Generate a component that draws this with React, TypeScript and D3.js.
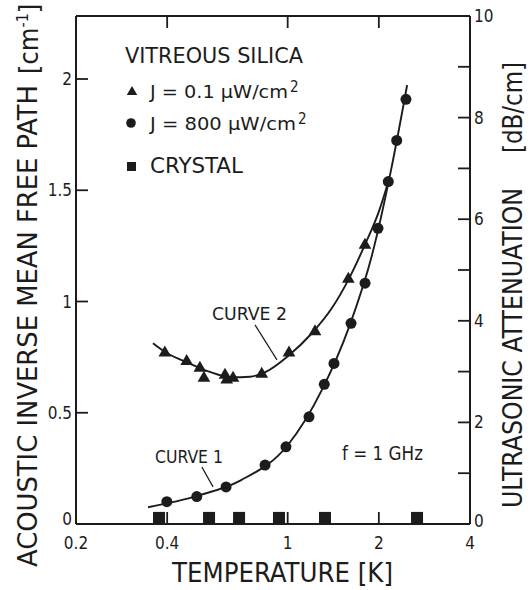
import React from "react";
import * as d3 from "d3";

// ---- data (temperature in K, attenuation in dB/cm) ----
const triT = [0.393, 0.464, 0.513, 0.529, 0.621, 0.629, 0.66, 0.821, 1.01, 1.231, 1.586, 1.8];
const triV = [3.37, 3.2, 3.07, 2.87, 2.93, 2.84, 2.87, 2.95, 3.37, 3.79, 4.82, 5.49];

const circT = [0.399, 0.501, 0.626, 0.842, 0.987, 1.176, 1.321, 1.422, 1.619, 1.801, 1.987, 2.149, 2.291, 2.458];
const circV = [0.44, 0.54, 0.73, 1.16, 1.52, 2.11, 2.75, 3.16, 3.95, 4.74, 5.82, 6.74, 7.55, 8.36];

const crysT = [0.376, 0.55, 0.691, 0.936, 1.328, 2.674];
const crysV = [0.12, 0.12, 0.12, 0.12, 0.12, 0.12];

// fitted curves
const curve1T = [0.346, 0.5, 0.7, 1.0, 1.3, 1.6, 1.9, 2.2, 2.48];
const curve1V = [0.33, 0.55, 0.86, 1.55, 2.65, 3.9, 5.3, 7.0, 8.64];
const curve2T = [0.359, 0.4, 0.47, 0.55, 0.65, 0.75, 0.85, 1.0, 1.2, 1.4, 1.6, 1.8, 2.0, 2.15];
const curve2V = [3.56, 3.36, 3.17, 3.0, 2.89, 2.9, 3.0, 3.3, 3.75, 4.25, 4.85, 5.5, 6.15, 6.74];

const xTicks = [0.2, 0.4, 1, 2, 4];
const xTickLabels = ["0.2", "0.4", "1", "2", "4"];
const xInnerTicks = [0.4, 1, 2];
const leftTicks = [0, 0.5, 1, 1.5, 2];
const leftTickLabels = ["0", "0.5", "1", "1.5", "2"];
const rightTicks = [0, 2, 4, 6, 8, 10];
const rightTickLabels = ["0", "2", "4", "6", "8", "10"];
const rightMinor = [1, 3, 5, 7, 9];

// annotation anchors (T, dB/cm)
const curve2Leader = [[0.78, 3.92], [0.922, 3.23]];
const curve1Leader = [[0.521, 1.12], [0.567, 0.73]];

const FONT = "'DejaVu Sans Condensed', 'Liberation Sans Narrow', 'DejaVu Sans', sans-serif";
const INK = "#1c1c1c";

export default function App() {
  const L = 76, R = 470, T = 16, B = 524;
  const x = d3.scaleLog().domain([0.2, 4]).range([L, R]);
  const yR = d3.scaleLinear().domain([0, 10]).range([B, T]);
  const yL = d3.scaleLinear().domain([0, 2]).range([B, 79]);

  const line = d3
    .line<[number, number]>()
    .x((d) => x(d[0]))
    .y((d) => yR(d[1]))
    .curve(d3.curveMonotoneX);
  const c1 = line(curve1T.map((t, i) => [t, curve1V[i]]));
  const c2 = line(curve2T.map((t, i) => [t, curve2V[i]]));

  const tri = d3.symbol(d3.symbolTriangle, 70)();
  const triLeg = d3.symbol(d3.symbolTriangle, 48)();

  const lw = 1.9;

  return (
    <svg width={530} height={590} style={{ position: "absolute", left: 0, top: 0, background: "#fff" }}>
      <rect x={0} y={0} width={530} height={590} fill="#fff" />
      {/* frame */}
      <g stroke={INK} strokeWidth={2} fill="none">
        <line x1={L} y1={T} x2={L} y2={B} />
        <line x1={L} y1={B} x2={R} y2={B} />
        <line x1={R} y1={T} x2={R} y2={B} />
        <line x1={L} y1={T} x2={R} y2={T} />
      </g>
      {/* ticks */}
      <g stroke={INK} strokeWidth={1.8}>
        {xInnerTicks.map((t) => (
          <g key={t}>
            <line x1={x(t)} x2={x(t)} y1={B} y2={B - 12} />
            <line x1={x(t)} x2={x(t)} y1={T} y2={T + 12} />
          </g>
        ))}
        {leftTicks.map((t) => (
          <line key={t} x1={L} x2={L + 12} y1={yL(t)} y2={yL(t)} />
        ))}
        {rightTicks.concat(rightMinor).map((t) => (
          <line key={t} x1={R - 12} x2={R} y1={yR(t)} y2={yR(t)} />
        ))}
      </g>
      <g fill={INK} fontFamily={FONT} fontSize={17}>
        {xTicks.map((t, i) => (
          <text key={t} x={x(t)} y={549} textAnchor="middle">
            {xTickLabels[i]}
          </text>
        ))}
        {leftTicks.map((t, i) => (
          <text key={t} x={72} y={i === 0 ? yL(t) + 1 : yL(t) + 6} textAnchor="end">
            {leftTickLabels[i]}
          </text>
        ))}
        {rightTicks.map((t, i) => (
          <text key={t} x={474} y={i === 0 ? yR(t) + 3 : yR(t) + 6} textAnchor="start">
            {rightTickLabels[i]}
          </text>
        ))}
      </g>

      {/* curves */}
      <path d={c1 || ""} fill="none" stroke={INK} strokeWidth={lw} />
      <path d={c2 || ""} fill="none" stroke={INK} strokeWidth={lw} />

      {/* markers */}
      <g fill={INK}>
        {triT.map((t, i) => (
          <path key={"t" + i} d={tri || ""} transform={`translate(${x(t)},${yR(triV[i])})`} />
        ))}
        {circT.map((t, i) => (
          <circle key={"c" + i} cx={x(t)} cy={yR(circV[i])} r={5.5} />
        ))}
        {crysT.map((t, i) => (
          <rect key={"s" + i} x={x(t) - 6} y={yR(crysV[i]) - 6} width={12} height={12} />
        ))}
      </g>

      {/* annotation leaders */}
      <g stroke={INK} strokeWidth={1.2}>
        <line x1={x(curve2Leader[0][0])} y1={yR(curve2Leader[0][1])} x2={x(curve2Leader[1][0])} y2={yR(curve2Leader[1][1])} />
        <line x1={x(curve1Leader[0][0])} y1={yR(curve1Leader[0][1])} x2={x(curve1Leader[1][0])} y2={yR(curve1Leader[1][1])} />
      </g>

      <g fill={INK} fontFamily={FONT}>
        <text x={212} y={320} fontSize={18} textLength={75} lengthAdjust="spacingAndGlyphs">CURVE 2</text>
        <text x={155} y={463} fontSize={18} textLength={68} lengthAdjust="spacingAndGlyphs">CURVE 1</text>
        <text x={342} y={460} fontSize={20} textLength={81} lengthAdjust="spacingAndGlyphs">f = 1 GHz</text>

        {/* legend */}
        <text x={125} y={63} fontSize={21} textLength={178} lengthAdjust="spacingAndGlyphs">VITREOUS SILICA</text>
        <path d={triLeg || ""} transform="translate(132,92)" />
        <text x={150} y={98} fontSize={17} textLength={138} lengthAdjust="spacingAndGlyphs">J = 0.1 µW/cm</text>
        <text x={290} y={92} fontSize={15}>2</text>
        <circle cx={131} cy={123} r={4.8} />
        <text x={150} y={130} fontSize={17} textLength={146} lengthAdjust="spacingAndGlyphs">J = 800 µW/cm</text>
        <text x={298} y={124} fontSize={15}>2</text>
        <rect x={127} y={162} width={9} height={9} />
        <text x={150} y={173} fontSize={21} textLength={93} lengthAdjust="spacingAndGlyphs">CRYSTAL</text>

        {/* axis titles */}
        <text x={172} y={582} fontSize={27} textLength={221} lengthAdjust="spacingAndGlyphs">TEMPERATURE [K]</text>
        <text transform="translate(37,567) rotate(-90)" fontSize={27} textLength={482} lengthAdjust="spacingAndGlyphs">
          ACOUSTIC INVERSE MEAN FREE PATH
        </text>
        <text transform="translate(38,74) rotate(-90)" fontSize={27}>
          [cm<tspan fontSize={16} dy={-10}>-1</tspan><tspan dy={10}>]</tspan>
        </text>
        <text transform="translate(522,508) rotate(-90)" fontSize={27} textLength={320} lengthAdjust="spacingAndGlyphs">
          ULTRASONIC ATTENUATION
        </text>
        <text transform="translate(522,153) rotate(-90)" fontSize={27} textLength={91} lengthAdjust="spacingAndGlyphs">
          [dB/cm]
        </text>
      </g>
    </svg>
  );
}
